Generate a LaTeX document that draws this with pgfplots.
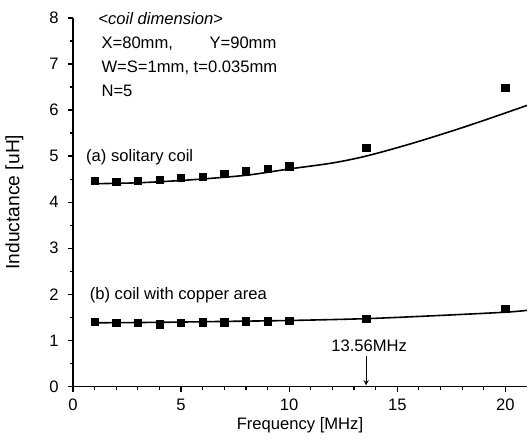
\documentclass[border=0pt]{standalone}
\usepackage{fontspec}
\setmainfont{Liberation Sans}
\usepackage{pgfplots}
\pgfplotsset{compat=1.18}
\begin{document}
\fontsize{12.5}{15}\selectfont
\begin{tikzpicture}
\begin{axis}[
  scale only axis, width=342pt, height=277.5pt,
  xmin=0, xmax=21, ymin=0, ymax=8,
  axis lines=left, axis line style={-, line width=1.2pt},
  tick align=outside,
  xtick={0,5,10,15,20}, minor x tick num=4,
  ytick={0,1,...,8}, minor y tick num=1,
  major tick length=4pt, minor tick length=2.5pt,
  every tick/.style={line width=0.9pt, black},
  /pgf/number format/assume math mode=true,
  ticklabel style={font=\fontsize{12.5}{15}\selectfont},
  yticklabel style={xshift=-2.5pt},
  xticklabel style={yshift=-1pt},
  xlabel={Frequency [MHz]}, ylabel={Inductance [uH]},
  xlabel style={at={(axis description cs:0.5,-0.106)}, anchor=center, font=\fontsize{12.5}{15}\selectfont},
  ylabel style={at={(axis description cs:-0.1287,0.5)}, anchor=center, rotate=0, font=\fontsize{14.5}{17}\selectfont},
  clip=false,
]
% (a) solitary coil: measured
\addplot[only marks, mark=square*, mark size=2.75pt, black] coordinates {
 (1,4.46) (2,4.44) (3,4.46) (4,4.48) (5,4.53) (6,4.55) (7,4.61) (8,4.67) (9,4.72) (10,4.78) (13.56,5.18) (20,6.49)};
% (a) calculated curve
\addplot[smooth, line width=1.2pt, black] coordinates {
 (1,4.40) (3,4.42) (5,4.47) (7,4.54) (8.3,4.60) (10,4.72) (12,4.85) (13.56,5.00) (15.5,5.25) (17.5,5.54) (19.1,5.79) (21,6.10)};
% (b) coil with copper area: measured
\addplot[only marks, mark=square*, mark size=2.75pt, black] coordinates {
 (1,1.40) (2,1.38) (3,1.38) (4,1.35) (5,1.38) (6,1.39) (7,1.39) (8,1.41) (9,1.41) (10,1.43) (13.56,1.475) (20,1.68)};
% (b) calculated curve
\addplot[smooth, line width=1.2pt, black] coordinates {
 (1,1.38) (4,1.39) (7,1.41) (10,1.43) (13.56,1.47) (17,1.54) (20,1.61) (21,1.65)};

\node[anchor=base west, inner sep=0pt] at (axis cs:1.17,7.85) {<\textit{coil dimension}>};
\node[anchor=base west, inner sep=0pt] at (axis cs:1.31,7.33) {X=80mm,\hspace{2.2em}Y=90mm};
\node[anchor=base west, inner sep=0pt] at (axis cs:1.31,6.81) {W=S=1mm, t=0.035mm};
\node[anchor=base west, inner sep=0pt] at (axis cs:1.31,6.29) {N=5};
\node[anchor=base west, inner sep=0pt] at (axis cs:0.6,4.89) {(a) solitary coil};
\node[anchor=base west, inner sep=0pt] at (axis cs:0.77,1.88) {(b) coil with copper area};
\node[anchor=base, inner sep=0pt] at (axis cs:13.7,0.75) {13.56MHz};
\draw[-stealth, line width=0.8pt] (axis cs:13.56,0.66) -- (axis cs:13.56,0.02);
\end{axis}
\path ([xshift=-53.25pt,yshift=-44.25pt]current axis.south west) ([xshift=0.75pt,yshift=13.5pt]current axis.north east);
\end{tikzpicture}
\end{document}
